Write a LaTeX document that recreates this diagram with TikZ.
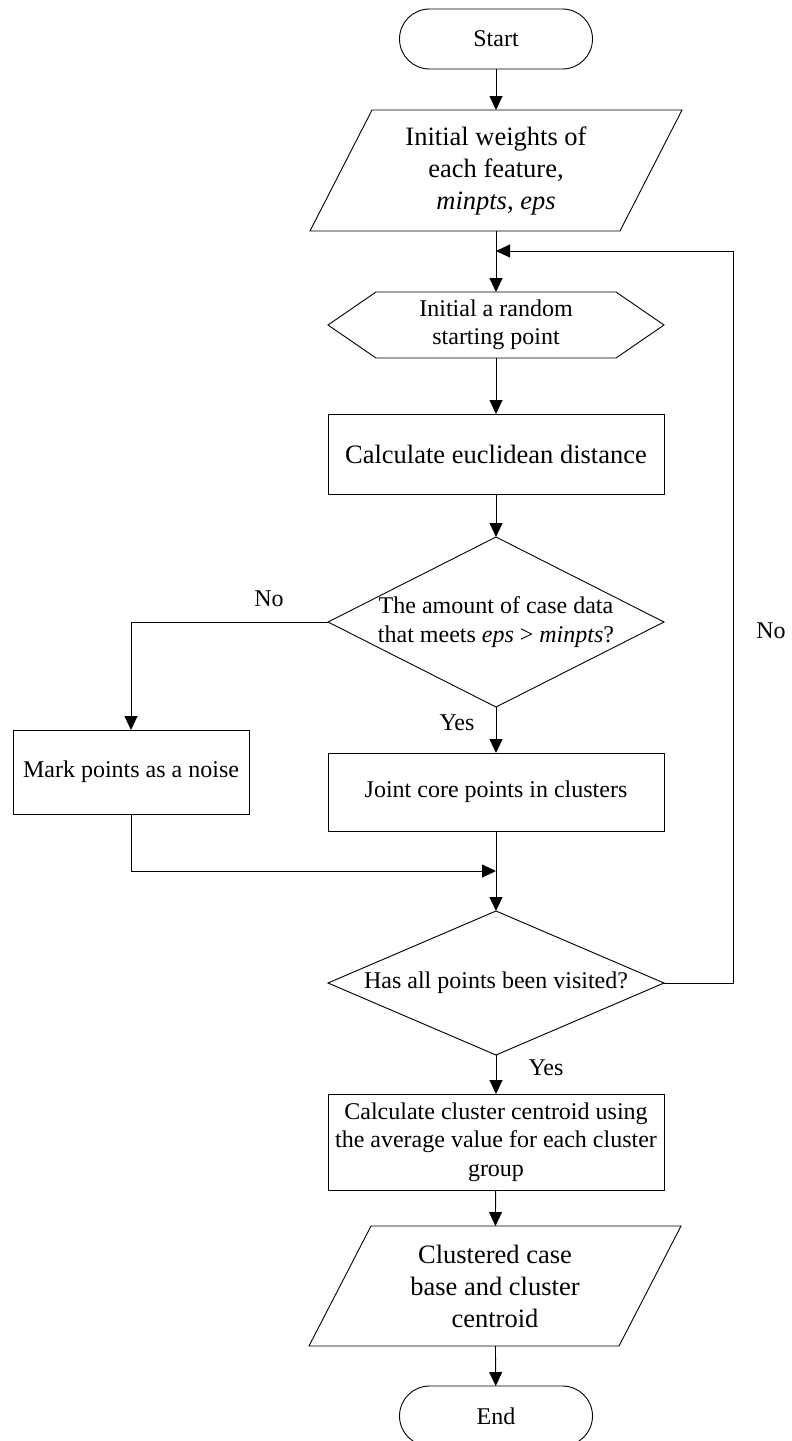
\documentclass[tikz,border=0pt]{standalone}
\usepackage{fontspec}
\setmainfont{Liberation Serif}
\usetikzlibrary{arrows.meta,shapes.geometric,shapes.misc}
\newcommand{\mytxt}{\fontsize{24}{28.5}\selectfont}
\newcommand{\mybig}{\fontsize{26.5}{32}\selectfont}
\begin{document}
\begin{tikzpicture}[x=1pt,y=-1pt,line width=0.9pt,
  every node/.style={inner sep=0pt, outer sep=0pt},
  term/.style={draw, rounded rectangle, minimum width=193pt, minimum height=60pt, font=\mytxt},
  boxshape/.style={draw, rectangle, minimum width=336pt, align=center},
  hold/.style={rectangle, align=center},
  dia/.style={draw, diamond, minimum width=336pt},
  arr/.style={-{Triangle[width=13pt,length=14pt]}},
  lbl/.style={font=\mytxt}
]
\useasboundingbox (0,0) rectangle (792,1441);
\clip (0,0) rectangle (792,1441);

% nodes
\node[term] (start) at (496,39) {Start};

\node[hold, minimum width=372pt, minimum height=121pt, font=\mybig] (in1) at (496,170.5)
  {Initial weights of\\each feature,\\\textit{minpts}, \textit{eps}};
\draw ([xshift=62pt]in1.north west) -- (in1.north east) -- ([xshift=-62pt]in1.south east) -- (in1.south west) -- cycle;

\node[hold, minimum width=336pt, minimum height=66pt, font=\mytxt] (hex) at (496,325)
  {Initial a random\\starting point};
\draw ([xshift=48pt]hex.north west) -- ([xshift=-48pt]hex.north east) -- (hex.east)
  -- ([xshift=-48pt]hex.south east) -- ([xshift=48pt]hex.south west) -- (hex.west) -- cycle;

\node[boxshape, minimum height=80pt, font=\mybig] (calc) at (496,454) {Calculate euclidean distance};

\node[dia, minimum height=170pt] (d1) at (496,622) {};
\node[align=center, font=\mytxt] (d1t) at (d1) {The amount of case data\\that meets \textit{eps} > \textit{minpts}?};

\node[boxshape, minimum width=236pt, minimum height=84pt, font=\mytxt] (noise) at (131,772) {Mark points as a noise};

\node[boxshape, minimum height=78pt, font=\mytxt] (join) at (496,792) {Joint core points in clusters};

\node[dia, minimum height=144pt] (d2) at (496,983) {};
\node[font=\mytxt] (d2t) at (d2) {Has all points been visited?};

\node[boxshape, minimum height=96pt, font=\mytxt] (cent) at (496,1142)
  {Calculate cluster centroid using\\the average value for each cluster\\group};

\node[hold, minimum width=372pt, minimum height=120pt, font=\mybig] (out) at (495,1286)
  {Clustered case\\base and cluster\\centroid};
\draw ([xshift=62pt]out.north west) -- (out.north east) -- ([xshift=-62pt]out.south east) -- (out.south west) -- cycle;

\node[term] (end) at (496,1416) {End};

% helper coordinates
\coordinate (fb) at (496,251);
\coordinate (fbr) at (733,251);
\coordinate (mj) at (496,871);

% connectors
\draw[arr] (start) -- (in1);
\draw[arr] (in1) -- (hex);
\draw[arr] (d2.east) -| (fbr) -- (fb);
\draw[arr] (hex) -- (calc);
\draw[arr] (calc) -- (d1);
\draw[arr] (d1.west) -| (noise.north);
\draw[arr] (d1) -- (join);
\draw[arr] (noise.south) |- (mj);
\draw[arr] (join) -- (d2);
\draw[arr] (d2) -- (cent);
\draw[arr] (cent) -- (out);
\draw[arr] (out) -- (end);

% labels
\node[lbl] (no1) at (269,599) {No};
\node[lbl] (yes1) at (457,723) {Yes};
\node[lbl] (no2) at (771,631) {No};
\node[lbl] (yes2) at (546,1068) {Yes};
\end{tikzpicture}
\end{document}
